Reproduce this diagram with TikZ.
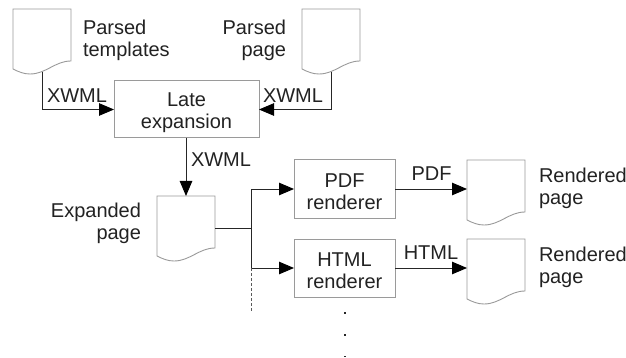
\documentclass[tikz,border=0pt]{standalone}
\usepackage{fontspec}
\setmainfont{Liberation Sans}
\usetikzlibrary{arrows.meta}
\definecolor{edgegray}{HTML}{9A9A9A}
\definecolor{inkdark}{HTML}{222222}
\newcommand{\topstrut}{\rule{0pt}{19.5pt}}
\tikzset{
  lbl/.style={font=\fontsize{20}{22}\selectfont, text=inkdark, inner sep=0pt, outer sep=0pt},
  boxnode/.style={lbl, draw=edgegray, line width=1pt, align=center, inner sep=0pt},
  docbox/.style={draw=none, inner sep=0pt, outer sep=0pt, minimum width=58pt, minimum height=63pt},
  docline/.style={draw=edgegray, line width=0.9pt},
  conn/.style={draw=black!85, line width=0.9pt},
  arr/.style={conn, -{Triangle[length=15pt,width=12.5pt,black]}},
  pointdot/.style={fill=black!85, inner sep=0pt, minimum size=1.6pt, draw=none}
}
\newcommand{\docnode}[3]{%
  \node[docbox] (#1) at (#2,#3) {};
  \draw[docline, shift={(#1.north west)}] (0,0) -- (58,0) -- (58,52)
    .. controls (42,52) and (33,65) .. (17,65)
    .. controls (11,65) and (6,63) .. (0,60) -- cycle;
}
\begin{document}
\begin{tikzpicture}[x=1pt,y=-1pt]
\useasboundingbox (0,0) rectangle (626,358);
\docnode{d1}{42}{40.5}
\docnode{d2}{331}{40.5}
\docnode{d3}{186}{227.5}
\docnode{d4}{496}{191.5}
\docnode{d5}{496}{270.5}
\node[boxnode, minimum width=145pt, minimum height=57pt] (late) at (186.5,109.5) {\topstrut Late\\expansion};
\node[boxnode, minimum width=101pt, minimum height=58pt] (pdf) at (344.5,189) {\topstrut PDF\\renderer};
\node[boxnode, minimum width=101pt, minimum height=58pt] (html) at (344.5,268) {\topstrut HTML\\renderer};
\node[lbl, align=left, anchor=west] (t1) at (83,40.5) {Parsed\\templates};
\node[lbl, align=right, anchor=east] (t2) at (286,40.5) {Parsed\\page};
\node[lbl, align=right, anchor=east] (t3) at (141,223) {Expanded\\page};
\node[lbl, align=left, anchor=west] (t4) at (539,188) {Rendered\\page};
\node[lbl, align=left, anchor=west] (t5) at (539,267) {Rendered\\page};
\node[lbl] (x1) at (77,96) {XWML};
\node[lbl] (x2) at (293,96) {XWML};
\node[lbl] (x3) at (221,160) {XWML};
\node[lbl] (x4) at (431.5,174) {PDF};
\node[lbl] (x5) at (431,253) {HTML};
\coordinate (j) at (251,228.5);
\coordinate (dashend) at (251,312);
\draw[arr] (d1.south) |- (late.west);
\draw[arr] (d2.south) |- (late.east);
\draw[arr] (late.south -| d3.north) -- (d3.north);
\draw[conn] (d3.east |- j) -- (j);
\draw[arr] (j) |- (pdf.west);
\draw[arr] (j) |- (html.west);
\draw[conn, densely dashed, draw=black!65, line width=0.8pt] (html.west -| j) -- (dashend);
\draw[arr] (pdf.east) -- (pdf.east -| d4.west);
\draw[arr] (html.east) -- (html.east -| d5.west);
\node[pointdot] (p1) at (345,313) {};
\node[pointdot] (p2) at (345,335) {};
\node[pointdot] (p3) at (345,356.5) {};
\end{tikzpicture}
\end{document}
